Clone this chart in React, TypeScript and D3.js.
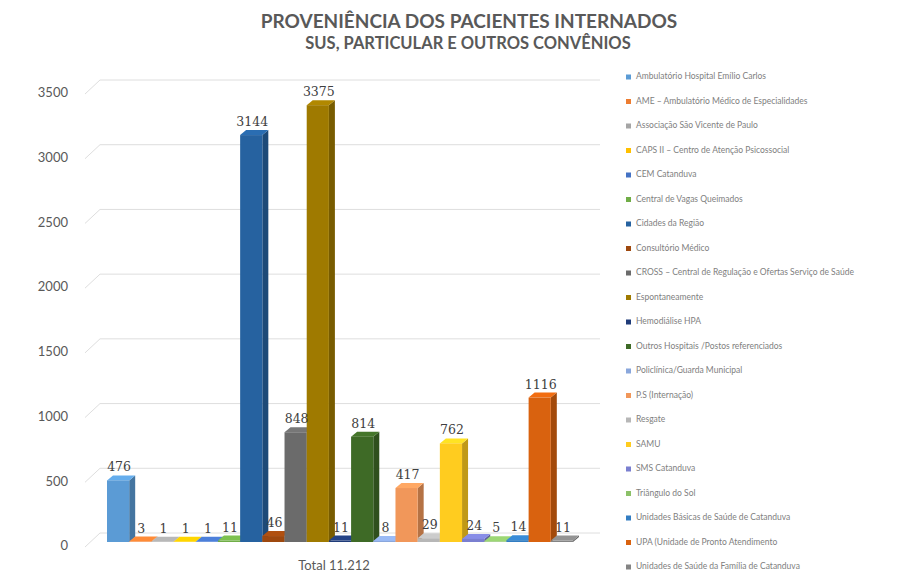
import React from "react";
import { scaleBand, scaleLinear, color as d3color } from "d3";

const categories = [
  "Ambulatório Hospital Emílio Carlos",
  "AME – Ambulatório Médico de Especialidades",
  "Associação São Vicente de Paulo",
  "CAPS II – Centro de Atenção Psicossocial",
  "CEM Catanduva",
  "Central de Vagas Queimados",
  "Cidades da Região",
  "Consultório Médico",
  "CROSS – Central de Regulação e Ofertas Serviço de Saúde",
  "Espontaneamente",
  "Hemodiálise HPA",
  "Outros Hospitais /Postos referenciados",
  "Policlínica/Guarda Municipal",
  "P.S (Internação)",
  "Resgate",
  "SAMU",
  "SMS Catanduva",
  "Triângulo do Sol",
  "Unidades Básicas de Saúde de Catanduva",
  "UPA (Unidade de Pronto Atendimento",
  "Unidades de Saúde da Família de Catanduva",
];

const values = [476, 3, 1, 1, 1, 11, 3144, 46, 848, 3375, 11, 814, 8, 417, 29, 762, 24, 5, 14, 1116, 11];

const colors = [
  "#5b9bd5", "#ed7d31", "#a5a5a5", "#ffc000", "#4472c4", "#70ad47",
  "#2662a0", "#9e480e", "#6b6b6b", "#9f7a00", "#1f3b78", "#3e6a26",
  "#8aa7dc", "#f1975a", "#b7b7b7", "#ffcc1f", "#7a7fd0", "#8cc168",
  "#327dc2", "#d9620f", "#848484",
];

const yTicks = [0, 500, 1000, 1500, 2000, 2500, 3000, 3500];
const title = "PROVENIÊNCIA DOS PACIENTES INTERNADOS";
const subtitle = "SUS, PARTICULAR E OUTROS CONVÊNIOS";
const totalLabel = "Total 11.212";

const W = 900;
const H = 580;

export default function App() {
  // heights in px for each value (shared by the three depth planes)
  const h = scaleLinear().domain([0, 3500]).range([0, 453]);
  const x = scaleBand<number>()
    .domain(values.map((_, i) => i))
    .range([107, 573])
    .padding(0);

  const frontBase = 547;
  const backBase = 533;
  const wallLeft = 85;
  const wallBack = 100;
  const wallRight = 600;
  const barBase = 542;
  const depthX = 6;
  const depthY = -5;
  const w = x.bandwidth();

  return (
    <svg width={W} height={H} style={{ display: "block", position: "absolute", left: 0, top: 0 }}>
      <rect width={W} height={H} fill="#fff" />
      <text x={469} y={28} textAnchor="middle" fontFamily="Lato" fontWeight="bold" fontSize={19} fill="#595959">
        {title}
      </text>
      <text x={468} y={49} textAnchor="middle" fontFamily="Lato" fontWeight="bold" fontSize={16.5} fill="#595959">
        {subtitle}
      </text>

      {/* gridlines: side wall diagonals + back wall */}
      <g stroke="#dedede" strokeWidth={1} fill="none">
        {yTicks.map((t) => (
          <g key={t}>
            <line x1={wallLeft} y1={frontBase - h(t)} x2={wallBack} y2={backBase - h(t)} />
            <line x1={wallBack} y1={backBase - h(t)} x2={wallRight} y2={backBase - h(t)} />
          </g>
        ))}
      </g>

      {/* y axis labels */}
      <g fontFamily="Lato" fontSize={13} fill="#595959" textAnchor="end">
        {yTicks.map((t) => (
          <text key={t} x={68} y={frontBase - h(t)} dominantBaseline="middle">
            {t}
          </text>
        ))}
      </g>

      {/* 3D columns, drawn left to right */}
      <g>
        {values.map((v, i) => {
          const x0 = x(i)!;
          const top = barBase - h(v);
          const c = d3color(colors[i])!;
          const side = c.darker(0.8).toString();
          const topC = c.brighter(0.3).toString();
          return (
            <g key={i}>
              <polygon
                points={`${x0 + w},${top} ${x0 + w + depthX},${top + depthY} ${x0 + w + depthX},${barBase + depthY} ${x0 + w},${barBase}`}
                fill={side}
              />
              <polygon
                points={`${x0},${top} ${x0 + depthX},${top + depthY} ${x0 + w + depthX},${top + depthY} ${x0 + w},${top}`}
                fill={topC}
              />
              <rect x={x0} y={top} width={w} height={barBase - top} fill={colors[i]} />
            </g>
          );
        })}
      </g>

      {/* data labels */}
      <g fontFamily="DejaVu Serif" fontSize={12.5} fill="#404040" textAnchor="middle">
        {values.map((v, i) => (
          <text key={i} x={x(i)! + w / 2 + 1} y={barBase - h(v) - 9}>
            {v}
          </text>
        ))}
      </g>

      <text x={334} y={570} textAnchor="middle" fontFamily="Lato" fontSize={13} fill="#595959">
        {totalLabel}
      </text>

      {/* legend */}
      <g fontFamily="Lato" fontSize={8.5} fill="#808080">
        {categories.map((name, i) => {
          const cy = 77 + i * 24.5;
          return (
            <g key={name}>
              <rect x={626} y={cy - 2.5} width={5} height={5} fill={colors[i]} />
              <text x={636} y={cy} dominantBaseline="middle">
                {name}
              </text>
            </g>
          );
        })}
      </g>
    </svg>
  );
}
